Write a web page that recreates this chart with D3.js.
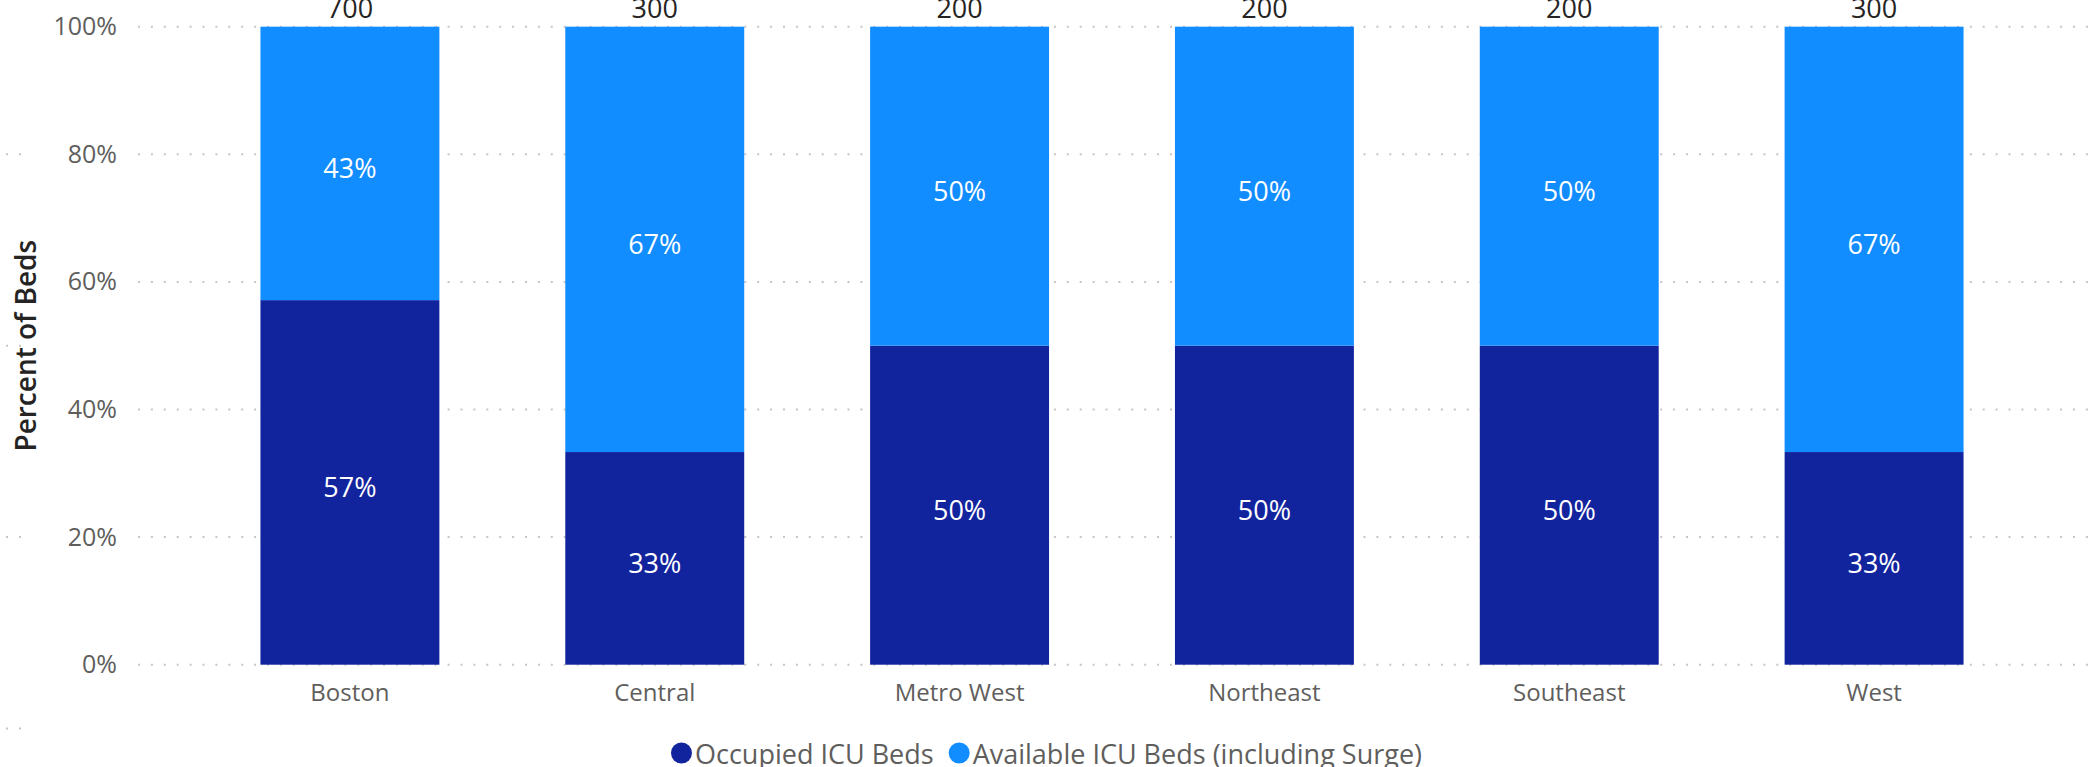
<!DOCTYPE html>
<html>
<head>
<meta charset="utf-8">
<script src="https://cdn.jsdelivr.net/npm/d3@7"></script>
<style>
  html, body { margin: 0; padding: 0; background: #fff; overflow: hidden; }
  svg { display: block; font-family: "Open Sans", sans-serif; }
</style>
</head>
<body>
<div id="chart"></div>
<script>
// data
const regions = ["Boston", "Central", "Metro West", "Northeast", "Southeast", "West"];
const occupiedBeds = [400, 100, 100, 100, 100, 100];
const availableBeds = [300, 200, 100, 100, 100, 200];
const seriesKeys = ["occupied", "available"];
const seriesNames = ["Occupied ICU Beds", "Available ICU Beds (including Surge)"];
const seriesColors = ["#12239E", "#118DFF"];
const yTicks = [0, 0.2, 0.4, 0.6, 0.8, 1];
// stray gridline dots at the far left of the frame
const strayGridTicks = [0.8, 0.5, 0.2, -0.1];

const width = 2093;
const height = 767;

const rows = regions.map((r, i) => ({
  region: r,
  occupied: occupiedBeds[i],
  available: availableBeds[i],
  total: occupiedBeds[i] + availableBeds[i],
}));

const svg = d3.select("#chart").append("svg")
  .attr("width", width)
  .attr("height", height);

const x = d3.scaleBand()
  .domain(regions)
  .range([197.5, 2026.5])
  .paddingInner(0.413)
  .paddingOuter(0.2065);

const y = d3.scaleLinear()
  .domain([0, 1])
  .range([664.7, 26.7]);

const color = d3.scaleOrdinal().domain(seriesKeys).range(seriesColors);

// dotted gridlines
svg.append("g")
  .selectAll("line")
  .data(yTicks)
  .join("line")
  .attr("x1", 138)
  .attr("x2", 2090)
  .attr("y1", d => y(d))
  .attr("y2", d => y(d))
  .attr("stroke", "#C8C6C4")
  .attr("stroke-width", 2)
  .attr("stroke-dasharray", "2,10.9");

svg.append("g")
  .selectAll("line")
  .data(strayGridTicks)
  .join("line")
  .attr("x1", 6)
  .attr("x2", 22)
  .attr("y1", d => y(d))
  .attr("y2", d => y(d))
  .attr("stroke", "#C8C6C4")
  .attr("stroke-width", 2)
  .attr("stroke-dasharray", "2,11");

// y axis labels
const yAxis = svg.append("g")
  .attr("transform", "translate(117,0)")
  .call(d3.axisLeft(y).tickValues(yTicks).tickFormat(d3.format(".0%")).tickSize(0).tickPadding(0));
yAxis.select(".domain").remove();
yAxis.selectAll("text")
  .attr("fill", "#605E5C")
  .style("font-size", "25px")
  .style("font-family", "Open Sans, sans-serif");

// y axis title
svg.append("text")
  .attr("transform", "translate(36," + y(0.5) + ") rotate(-90)")
  .attr("text-anchor", "middle")
  .attr("fill", "#252423")
  .style("font-size", "28px")
  .style("font-weight", 600)
  .text("Percent of Beds");

// x axis labels
const xAxis = svg.append("g")
  .attr("transform", "translate(0," + y(0) + ")")
  .call(d3.axisBottom(x).tickSize(0).tickPadding(19));
xAxis.select(".domain").remove();
xAxis.selectAll("text")
  .attr("fill", "#605E5C")
  .style("font-size", "24px")
  .style("font-family", "Open Sans, sans-serif");

// stacked bars (100%)
const stacked = d3.stack().keys(seriesKeys).offset(d3.stackOffsetExpand)(rows);

const layers = svg.append("g")
  .selectAll("g")
  .data(stacked)
  .join("g")
  .attr("fill", d => color(d.key));

layers.selectAll("rect")
  .data(d => d)
  .join("rect")
  .attr("x", d => x(d.data.region))
  .attr("width", x.bandwidth())
  .attr("y", d => y(d[1]))
  .attr("height", d => y(d[0]) - y(d[1]));

// segment labels
layers.selectAll("text")
  .data(d => d)
  .join("text")
  .attr("x", d => x(d.data.region) + x.bandwidth() / 2)
  .attr("y", d => (y(d[0]) + y(d[1])) / 2)
  .attr("dy", "0.55em")
  .attr("text-anchor", "middle")
  .attr("fill", "#fff")
  .style("font-size", "27px")
  .text(d => d3.format(".0%")(d[1] - d[0]));

// totals above bars (cut by the top edge, as in the reference)
svg.append("g")
  .selectAll("text")
  .data(rows)
  .join("text")
  .attr("x", d => x(d.region) + x.bandwidth() / 2)
  .attr("y", y(1) - 9)
  .attr("text-anchor", "middle")
  .attr("fill", "#252423")
  .style("font-size", "27px")
  .text(d => d.total);

// legend, centred on the page
const legend = svg.append("g");
const items = legend.selectAll("g")
  .data(seriesKeys)
  .join("g");

items.append("circle")
  .attr("r", 10.5)
  .attr("cy", 753)
  .attr("fill", d => color(d));

items.append("text")
  .attr("y", 764)
  .attr("fill", "#605E5C")
  .style("font-size", "27px")
  .text((d, i) => seriesNames[i]);

let cursor = 0;
const offsets = [];
items.each(function () {
  const w = d3.select(this).select("text").node().getComputedTextLength();
  offsets.push(cursor);
  cursor += 24 + w + 15;
});
const legendWidth = cursor - 15;
const start = width / 2 - legendWidth / 2;
items.each(function (d, i) {
  const g = d3.select(this);
  g.select("circle").attr("cx", start + offsets[i] + 10.5);
  g.select("text").attr("x", start + offsets[i] + 24);
});
</script>
</body>
</html>
